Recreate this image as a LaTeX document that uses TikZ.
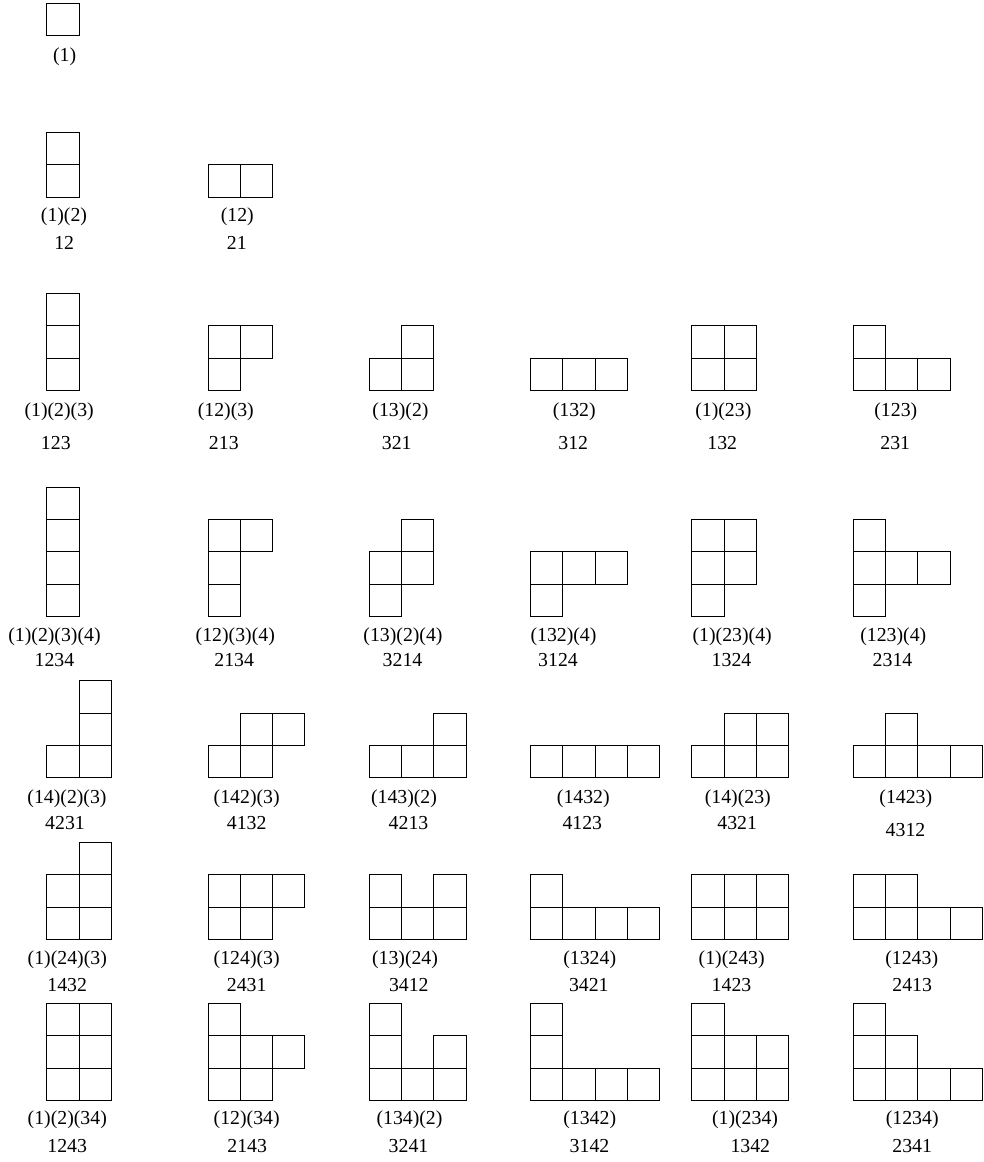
\documentclass[tikz,border=0pt]{standalone}
\usepackage{fontspec}
\setmainfont{Liberation Serif}
\usepackage{tikz}
\usetikzlibrary{positioning}
% one column of the grid is 161.3 px wide, one box is 32.3 px
\newcommand{\cellsat}[3]{%
  \foreach \c/\r in {#3}
    \draw[cell] ({#1+\c*32.3},{#2-\r*32.3}) rectangle ++(32.3,-32.3);}

\begin{document}
\begin{tikzpicture}[x=0.5pt, y=-0.5pt,
      cell/.style={draw=black, line width=0.5pt},
      lbl/.style={inner sep=0pt, font=\fontsize{9.9}{12}\selectfont}]
  \useasboundingbox (0,0) rectangle (984,1162);

  % n = 1
  \cellsat{46.7}{35.7}{0/0}
  \node[lbl] (cyc00) at (64.7,56.7) {(1)};

  % n = 2
  \cellsat{46.7}{197}{0/0,0/1}
  \node[lbl] (cyc10) at (64,216.7) {(1)(2)};
  \node[lbl] (wrd10) at (64.2,242.7) {12};
  \cellsat{208}{197}{0/0,1/0}
  \node[lbl] (cyc11) at (237.3,216.7) {(12)};
  \node[lbl] (wrd11) at (236.8,242.7) {21};

  % n = 3
  \cellsat{46.7}{390.3}{0/0,0/1,0/2}
  \node[lbl] (cyc20) at (59.2,411.7) {(1)(2)(3)};
  \node[lbl] (wrd20) at (55.8,442.7) {123};
  \cellsat{208}{390.3}{0/0,0/1,1/1}
  \node[lbl] (cyc21) at (225.8,411.7) {(12)(3)};
  \node[lbl] (wrd21) at (223.8,442.7) {213};
  \cellsat{369.3}{390.3}{0/0,1/0,1/1}
  \node[lbl] (cyc22) at (400.5,411.7) {(13)(2)};
  \node[lbl] (wrd22) at (396.7,442.7) {321};
  \cellsat{530.6}{390.3}{0/0,1/0,2/0}
  \node[lbl] (cyc23) at (574.2,411.7) {(132)};
  \node[lbl] (wrd23) at (573.2,442.7) {312};
  \cellsat{691.9}{390.3}{0/0,1/0,0/1,1/1}
  \node[lbl] (cyc24) at (723.3,411.7) {(1)(23)};
  \node[lbl] (wrd24) at (722.2,442.7) {132};
  \cellsat{853.2}{390.3}{0/0,1/0,2/0,0/1}
  \node[lbl] (cyc25) at (895.8,411.7) {(123)};
  \node[lbl] (wrd25) at (895.2,442.7) {231};

  % n = 4
  \cellsat{46.7}{616.3}{0/0,0/1,0/2,0/3}
  \node[lbl] (cyc30) at (54.5,636.7) {(1)(2)(3)(4)};
  \node[lbl] (wrd30) at (54.5,660) {1234};
  \cellsat{208}{616.3}{0/0,0/1,0/2,1/2}
  \node[lbl] (cyc31) at (235.3,636.7) {(12)(3)(4)};
  \node[lbl] (wrd31) at (234.2,660) {2134};
  \cellsat{369.3}{616.3}{0/0,0/1,1/1,1/2}
  \node[lbl] (cyc32) at (403,636.7) {(13)(2)(4)};
  \node[lbl] (wrd32) at (402.5,660) {3214};
  \cellsat{530.6}{616.3}{0/0,0/1,1/1,2/1}
  \node[lbl] (cyc33) at (563.5,636.7) {(132)(4)};
  \node[lbl] (wrd33) at (558,660) {3124};
  \cellsat{691.9}{616.3}{0/0,0/1,1/1,0/2,1/2}
  \node[lbl] (cyc34) at (732.2,636.7) {(1)(23)(4)};
  \node[lbl] (wrd34) at (731.5,660) {1324};
  \cellsat{853.2}{616.3}{0/0,0/1,1/1,2/1,0/2}
  \node[lbl] (cyc35) at (893.3,636.7) {(123)(4)};
  \node[lbl] (wrd35) at (892.5,660) {2314};

  \cellsat{46.7}{777.7}{0/0,1/0,1/1,1/2}
  \node[lbl] (cyc40) at (67,798.3) {(14)(2)(3)};
  \node[lbl] (wrd40) at (65,823.3) {4231};
  \cellsat{208}{777.7}{0/0,1/0,1/1,2/1}
  \node[lbl] (cyc41) at (246.7,798.3) {(142)(3)};
  \node[lbl] (wrd41) at (246.7,823.3) {4132};
  \cellsat{369.3}{777.7}{0/0,1/0,2/0,2/1}
  \node[lbl] (cyc42) at (404,798.3) {(143)(2)};
  \node[lbl] (wrd42) at (408.5,823.3) {4213};
  \cellsat{530.6}{777.7}{0/0,1/0,2/0,3/0}
  \node[lbl] (cyc43) at (583.3,798.3) {(1432)};
  \node[lbl] (wrd43) at (582.3,823.3) {4123};
  \cellsat{691.9}{777.7}{0/0,1/0,2/0,1/1,2/1}
  \node[lbl] (cyc44) at (737.8,798.3) {(14)(23)};
  \node[lbl] (wrd44) at (737.2,823.3) {4321};
  \cellsat{853.2}{777.7}{0/0,1/0,2/0,3/0,1/1}
  \node[lbl] (cyc45) at (905.8,798.3) {(1423)};
  \node[lbl] (wrd45) at (905.5,830) {4312};

  \cellsat{46.7}{939.3}{0/0,1/0,0/1,1/1,1/2}
  \node[lbl] (cyc50) at (67.3,960) {(1)(24)(3)};
  \node[lbl] (wrd50) at (67.2,985.5) {1432};
  \cellsat{208}{939.3}{0/0,1/0,0/1,1/1,2/1}
  \node[lbl] (cyc51) at (246.7,960) {(124)(3)};
  \node[lbl] (wrd51) at (246.7,985.5) {2431};
  \cellsat{369.3}{939.3}{0/0,1/0,2/0,0/1,2/1}
  \node[lbl] (cyc52) at (405,960) {(13)(24)};
  \node[lbl] (wrd52) at (408.8,985.5) {3412};
  \cellsat{530.6}{939.3}{0/0,1/0,2/0,3/0,0/1}
  \node[lbl] (cyc53) at (589.7,960) {(1324)};
  \node[lbl] (wrd53) at (588.8,985.5) {3421};
  \cellsat{691.9}{939.3}{0/0,1/0,2/0,0/1,1/1,2/1}
  \node[lbl] (cyc54) at (731.7,960) {(1)(243)};
  \node[lbl] (wrd54) at (731.5,985.5) {1423};
  \cellsat{853.2}{939.3}{0/0,1/0,2/0,3/0,0/1,1/1}
  \node[lbl] (cyc55) at (911.7,960) {(1243)};
  \node[lbl] (wrd55) at (912.2,985.5) {2413};

  \cellsat{46.7}{1100.3}{0/0,1/0,0/1,1/1,0/2,1/2}
  \node[lbl] (cyc60) at (67.3,1120) {(1)(2)(34)};
  \node[lbl] (wrd60) at (67.2,1146) {1243};
  \cellsat{208}{1100.3}{0/0,1/0,0/1,1/1,2/1,0/2}
  \node[lbl] (cyc61) at (246.7,1120) {(12)(34)};
  \node[lbl] (wrd61) at (247.2,1146) {2143};
  \cellsat{369.3}{1100.3}{0/0,1/0,2/0,0/1,2/1,0/2}
  \node[lbl] (cyc62) at (409.5,1120) {(134)(2)};
  \node[lbl] (wrd62) at (408.5,1146) {3241};
  \cellsat{530.6}{1100.3}{0/0,1/0,2/0,3/0,0/1,0/2}
  \node[lbl] (cyc63) at (589.7,1120) {(1342)};
  \node[lbl] (wrd63) at (589.5,1146) {3142};
  \cellsat{691.9}{1100.3}{0/0,1/0,2/0,0/1,1/1,2/1,0/2}
  \node[lbl] (cyc64) at (745,1120) {(1)(234)};
  \node[lbl] (wrd64) at (750.3,1146) {1342};
  \cellsat{853.2}{1100.3}{0/0,1/0,2/0,3/0,0/1,1/1,0/2}
  \node[lbl] (cyc65) at (912.2,1120) {(1234)};
  \node[lbl] (wrd65) at (912.2,1146) {2341};
\end{tikzpicture}
\end{document}
